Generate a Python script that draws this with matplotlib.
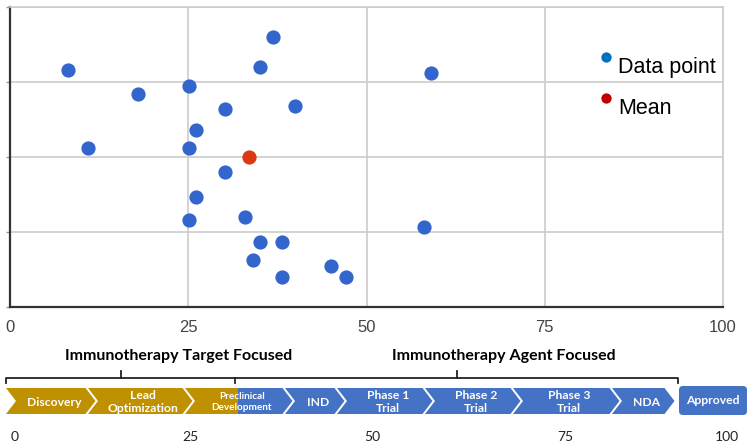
import matplotlib.pyplot as plt
from matplotlib.patches import Polygon, Rectangle, FancyBboxPatch
import numpy as np

# valores
x_vals = [36.9, 8.1, 35.1, 25.1, 18.0, 30.2, 40.0, 26.1, 10.9, 25.1, 30.2,
          26.1, 25.1, 33.0, 35.1, 38.1, 34.1, 45.0, 38.1, 47.1, 59.0, 58.1]
y_vals = [3.6, 3.16, 3.2, 2.95, 2.84, 2.64, 2.68, 2.36, 2.12, 2.12, 1.8,
          1.47, 1.16, 1.2, 0.87, 0.87, 0.63, 0.55, 0.4, 0.4, 3.12, 1.07]
mean_x = [33.5]
mean_y = [2.0]
x_ticks = [0, 25, 50, 75, 100]

legend_labels = ["Data point", "Mean"]
stages = ["Discovery", "Lead\nOptimization", "Preclinical\nDevelopment", "IND",
          "Phase 1\nTrial", "Phase 2\nTrial", "Phase 3\nTrial", "NDA"]
final_stage = "Approved"
groups = ["Immunotherapy Target Focused", "Immunotherapy Agent Focused"]
bottom_ticks = ["0", "25", "50", "75", "100"]

W, H = 750, 448
fig = plt.figure(figsize=(7.5, 4.48), dpi=100)

# --- scatter ---
ax = fig.add_axes([10 / W, 1 - 307 / H, (723 - 10) / W, 300 / H])
ax.scatter(x_vals, y_vals, s=105, color="#3366CC", linewidths=0, zorder=3)
ax.scatter(mean_x, mean_y, s=105, color="#DC3912", linewidths=0, zorder=3)
ax.set_xlim(0, 100)
ax.set_ylim(0, 4)
ax.set_xticks(x_ticks)
ax.set_xticklabels([str(v) for v in x_ticks], fontsize=12, color="#444444",
                   family="Liberation Sans")
ax.tick_params(axis="x", length=0, pad=9)
ax.set_yticks([0, 1, 2, 3, 4])
ax.set_yticklabels([])
ax.tick_params(axis="y", length=3, color="#999999", width=1)
ax.grid(True, color="#cccccc", linewidth=1.2)
ax.set_axisbelow(True)
for s in ["left", "bottom"]:
    ax.spines[s].set_color("#333333")
    ax.spines[s].set_linewidth(1.6)
for s in ["top", "right"]:
    ax.spines[s].set_color("#cccccc")
    ax.spines[s].set_linewidth(1.2)

# --- camada em pixels para legenda e pipeline ---
ov = fig.add_axes([0, 0, 1, 1], zorder=5)
ov.set_xlim(0, W)
ov.set_ylim(H, 0)
ov.axis("off")
ov.patch.set_alpha(0)

leg_colors = ["#0070C0", "#C00000"]
leg_y = [57, 98]
for lab, c, yy in zip(legend_labels, leg_colors, leg_y):
    ov.scatter([606], [yy], s=55, color=c, linewidths=0)
    ov.text(618, yy + 16, lab, fontsize=15.5, family="Liberation Sans",
            va="baseline", ha="left", color="black")

# chevrons
gold = "#BF9000"
blue = "#4472C4"
left_x = [6, 88, 185, 285, 337, 425, 513, 612]
right_x = left_x[1:] + [667]
top, bot, mid = 388, 414, 401
tip = 10
split_x = 238
fk = dict(family="Lato", weight="bold", color="white")
for i, (name, x0, x1) in enumerate(zip(stages, left_x, right_x)):
    x1g = x1 - 2.5
    pts = [(x0, top), (x1g, top), (x1g + tip, mid), (x1g, bot), (x0, bot), (x0 + tip, mid)]
    if i == 2:
        for col, cx0, cx1 in [(gold, 0, split_x), (blue, split_x, W)]:
            p = Polygon(pts, closed=True, color=col, lw=0)
            ov.add_patch(p)
            clip = Rectangle((cx0, 0), cx1 - cx0, H, transform=ov.transData)
            p.set_clip_path(clip)
    else:
        col = gold if i < 2 else blue
        ov.add_patch(Polygon(pts, closed=True, color=col, lw=0))
    cx = (x0 + tip + x1g + tip) / 2 - 2
    fs = 7.2 if i == 2 else 8.7
    ov.text(cx, mid + 1, name, fontsize=fs, ha="center", va="center",
            linespacing=1.15, **fk)

ov.add_patch(FancyBboxPatch((682, 389), 62, 23, boxstyle="round,pad=3,rounding_size=4",
                            color=blue, lw=0))
ov.text(713, 401, final_stage, fontsize=8.7, ha="center", va="center", **fk)

# chaves
lc = "#222222"
ov.plot([6, 6, 235, 235], [383, 378, 378, 383], color=lc, lw=1.3)
ov.plot([235, 678, 678], [378, 378, 383], color=lc, lw=1.3)
ov.plot([121, 121], [378, 371], color=lc, lw=1.3)
ov.plot([457, 457], [378, 371], color=lc, lw=1.3)
ov.text(179, 356, groups[0], fontsize=11.5, ha="center", va="center",
        family="Lato", weight="bold", color="black")
ov.text(504, 356, groups[1], fontsize=11.5, ha="center", va="center",
        family="Lato", weight="bold", color="black")

bt_x = [15, 190, 372, 565, 727]
for lab, xx in zip(bottom_ticks, bt_x):
    ov.text(xx, 437, lab, fontsize=10, ha="center", va="center",
            family="Lato", color="#222222")

fig.savefig("out.png", dpi=100)
